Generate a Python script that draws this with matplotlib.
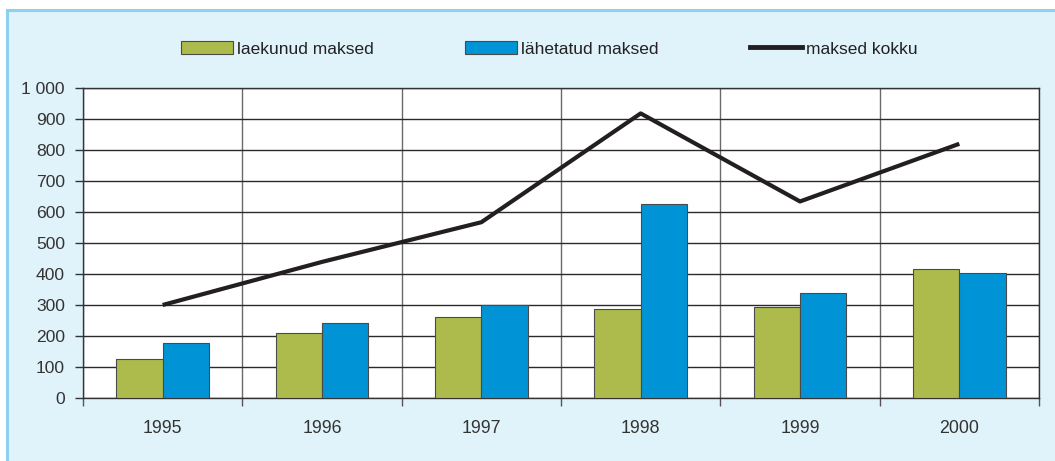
import matplotlib
matplotlib.use('Agg')
import matplotlib.pyplot as plt
from matplotlib.patches import Rectangle
from matplotlib.lines import Line2D
from matplotlib.ticker import FuncFormatter, FixedLocator
import numpy as np

years = ['1995', '1996', '1997', '1998', '1999', '2000']
laekunud = [125, 211, 260, 287, 294, 416]
lahetatud = [178, 243, 299, 625, 340, 404]
kokku = [300, 439, 567, 918, 634, 820]
labels = ['laekunud maksed', 'lähetatud maksed', 'maksed kokku']

GREEN = '#adbb4c'
BLUE = '#0094d6'
LINE = '#231f20'
BG = '#e0f2fa'

plt.rcParams['font.family'] = ['Liberation Sans', 'DejaVu Sans']

fig = plt.figure(figsize=(10.55, 4.61), dpi=100, facecolor='white')
# light blue panel with border on top / left
fig.patches.append(Rectangle((7 / 1055, -0.05), 1.1, (461 - 10) / 461 + 0.05,
                             transform=fig.transFigure, facecolor=BG,
                             edgecolor='#8dd0f0', linewidth=2.2, zorder=-5))

ax = fig.add_axes([83 / 1055, 63 / 461, (1039 - 83) / 1055, 310 / 461])
ax.set_facecolor('white')

x = np.arange(len(years))
w = 0.29
ax.bar(x - w / 2, laekunud, w, color=GREEN, edgecolor='#4a4a4a', linewidth=0.8, zorder=3)
ax.bar(x + w / 2, lahetatud, w, color=BLUE, edgecolor='#4a4a4a', linewidth=0.8, zorder=3)
ax.plot(x, kokku, color=LINE, linewidth=3, zorder=4, solid_capstyle='butt')

ax.set_xlim(-0.5, len(years) - 0.5)
ax.set_ylim(0, 1000)
ax.set_yticks(range(0, 1001, 100))
ax.yaxis.set_major_formatter(FuncFormatter(lambda v, p: f'{int(v):,}'.replace(',', ' ')))
ax.set_xticks(x)
ax.set_xticklabels(years)
ax.xaxis.set_minor_locator(FixedLocator(np.arange(-0.5, len(years), 1.0)))

ax.grid(axis='y', which='major', color='#2a2a2a', linewidth=1, zorder=1)
ax.grid(axis='x', which='minor', color='#6a6a6a', linewidth=1, zorder=1)
ax.set_axisbelow(True)

ax.tick_params(axis='x', which='major', length=0, pad=16, labelsize=12.8, labelcolor='#333333')
ax.tick_params(axis='x', which='minor', length=6, width=1, color='#555555', direction='out')
ax.tick_params(axis='y', length=6, width=1, color='#333333', pad=7, labelsize=12.6,
               labelcolor='#333333', direction='out')

for s in ax.spines.values():
    s.set_color('#333333')
    s.set_linewidth(1)

handles = [Rectangle((0, 0), 1, 1, facecolor=GREEN, edgecolor='#4a4a4a', linewidth=0.8),
           Rectangle((0, 0), 1, 1, facecolor=BLUE, edgecolor='#4a4a4a', linewidth=0.8),
           Line2D([0], [0], color=LINE, linewidth=3.5)]
# one legend entry per slot, at the reference's handle positions
for h, lab, px in zip(handles, labels, [181, 465, 750]):
    fig.legend([h], [lab], loc='center left', bbox_to_anchor=(px / 1055, 1 - 49 / 461),
               frameon=False, fontsize=12.5, handlelength=3.0, handleheight=0.75,
               handletextpad=0.25, borderpad=0, borderaxespad=0, labelcolor='#222222')

fig.savefig('out.png', dpi=100, facecolor=fig.get_facecolor())
